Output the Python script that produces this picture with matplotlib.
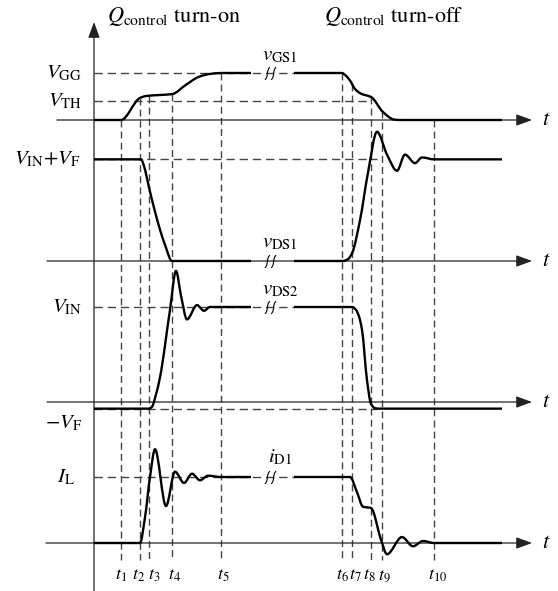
import numpy as np
import matplotlib.pyplot as plt
from matplotlib.path import Path
from matplotlib.patches import PathPatch
from matplotlib.transforms import Affine2D

plt.rcParams['mathtext.fontset'] = 'stix'
plt.rcParams['font.family'] = ['STIXGeneral', 'DejaVu Serif']

# switching instants t1..t10 (time units)
t_marks = [27, 46, 55, 78, 127, 248, 258, 277, 288, 340]
t_names = ['$t_{%d}$' % (i + 1) for i in range(10)]
# nudges so the crowded labels sit side by side
t_nudge = [-6, -8, -1, -4, -4, -6, -3, -8, -4, -6]

# gate-source voltage, normalised to V_GG
vgs_on_t = [0, 27, 46, 52, 64, 78, 92, 105, 116, 127, 157]
vgs_on_v = [0, 0, 0.47, 0.51, 0.53, 0.55, 0.75, 0.92, 0.98, 1.0, 1.0]
vgs_off_t = [200, 248, 251, 256, 261, 267, 277, 289, 300, 306, 408]
vgs_off_v = [1.0, 1.0, 0.96, 0.84, 0.66, 0.56, 0.49, 0.17, 0.01, 0, 0]
V_TH = 0.40

# drain-source voltage of the control switch, normalised to V_IN
V_F = 0.07
vds1_on_t = [0, 47, 50, 53, 56, 61, 66, 71, 78, 157]
vds1_on_v = [1.07, 1.07, 1.0, 0.87, 0.73, 0.52, 0.33, 0.17, 0, 0]
vds1_off_t = [200, 249, 254, 258, 266, 274, 283, 293, 303, 311, 321, 328, 340, 408]
vds1_off_v = [0, 0, 0.02, 0.08, 0.43, 0.93, 1.36, 1.12, 0.95, 1.12, 1.03, 1.09, 1.07, 1.07]

# voltage across the synchronous switch
vds2_on_t = [0, 55, 58, 62, 66, 76, 82, 87, 93, 103, 110, 116, 127, 157]
vds2_on_v = [-0.07, -0.07, -0.05, 0.08, 0.26, 0.97, 1.38, 1.12, 0.87, 1.02, 0.96, 1.0, 1.0, 1.0]
vds2_off_t = [200, 258, 262, 265, 268, 273, 277, 281, 285, 408]
vds2_off_v = [1.0, 1.0, 0.97, 0.9, 0.76, 0.23, -0.02, -0.065, -0.07, -0.07]

# diode current, normalised to I_L
id1_on_t = [0, 46, 51, 56, 61, 72, 81, 90, 98, 106, 114, 127, 157]
id1_on_v = [0, 0, 0.39, 1.0, 1.42, 0.56, 1.08, 0.91, 1.05, 0.95, 1.02, 1.0, 1.0]
id1_off_t = [200, 256, 263, 269, 277, 287, 293, 308, 319, 329, 340, 408]
id1_off_v = [1.0, 1.0, 0.77, 0.55, 0.53, 0.05, -0.17, 0.09, -0.05, 0.03, 0, 0]

# layout: baseline row and scale of each trace
rows = {'gs': (120, 47), 'ds1': (261, 95), 'ds2': (402, 95), 'd1': (543, 66)}
t_break = 176
ink = 'black'
grey = '#444444'


def smooth_path(ts, vs):
    """Monotone cubic Bezier through the given vertices."""
    t = np.asarray(ts, float)
    v = np.asarray(vs, float)
    h = np.diff(t)
    d = np.diff(v) / h
    m = np.zeros_like(t)
    for k in range(1, len(t) - 1):
        if d[k - 1] * d[k] > 0:
            w1 = 2 * h[k] + h[k - 1]
            w2 = h[k] + 2 * h[k - 1]
            m[k] = (w1 + w2) / (w1 / d[k - 1] + w2 / d[k])
    verts = [(t[0], v[0])]
    codes = [Path.MOVETO]
    for k in range(len(h)):
        verts += [(t[k] + h[k] / 3, v[k] + m[k] * h[k] / 3),
                  (t[k + 1] - h[k] / 3, v[k + 1] - m[k + 1] * h[k] / 3),
                  (t[k + 1], v[k + 1])]
        codes += [Path.CURVE4] * 3
    return Path(verts, codes)


fig = plt.figure(figsize=(5.58, 5.91), dpi=100)
ax = fig.add_axes([0, 0, 1, 1])
ax.set_xlim(-94, 464)
ax.set_ylim(591, 0)
ax.axis('off')

tr = {k: Affine2D().scale(1, -s).translate(0, y0) + ax.transData for k, (y0, s) in rows.items()}

# break mark: two small wavy strokes
brk = Path([(-0.9, -1), (-0.3, -0.6), (-0.7, 0.6), (-0.1, 1),
            (0.1, -1), (0.7, -0.6), (0.3, 0.6), (0.9, 1)],
           [Path.MOVETO, Path.CURVE4, Path.CURVE4, Path.CURVE4,
            Path.MOVETO, Path.CURVE4, Path.CURVE4, Path.CURVE4])

arrow = dict(arrowstyle='-|>,head_length=0.6,head_width=0.22', lw=0.9, color='#222222',
             mutation_scale=16, shrinkA=0, shrinkB=0)

# vertical axis
ax.annotate('', xy=(0, 22), xytext=(0, 591), xycoords='data', arrowprops=arrow)

# time axes
for key, x0 in [('gs', -37), ('ds1', -47), ('ds2', -47), ('d1', -48)]:
    ax.annotate('', xy=(438, 0), xytext=(x0, 0), xycoords=tr[key], textcoords=tr[key],
                arrowprops=arrow)
    ax.text(452, 0, '$t$', transform=tr[key], fontsize=16, ha='center', va='center')

# dashed time markers, starting on the gate trace
gs_t = vgs_on_t + vgs_off_t
gs_v = vgs_on_v + vgs_off_v
y0, s = rows['gs']
for t, name, dx in zip(t_marks, t_names, t_nudge):
    top = y0 - s * np.interp(t, gs_t, gs_v)
    ax.plot([t, t], [top, 560], color=grey, lw=1.0, ls=(0, (5, 3)), zorder=1)
    ax.text(t + dx, 576, name, fontsize=13, ha='left', va='center')

# dashed reference levels
dash = dict(color=grey, lw=1.0, ls=(0, (6, 3.5)), zorder=1)
ax.plot([0, 200], [1.0, 1.0], transform=tr['gs'], **dash)
ax.plot([0, 277], [V_TH, V_TH], transform=tr['gs'], **dash)
ax.plot([0, 283], [1 + V_F, 1 + V_F], transform=tr['ds1'], **dash)
ax.plot([0, 200], [1.0, 1.0], transform=tr['ds2'], **dash)
ax.plot([0, 283], [-V_F, -V_F], transform=tr['ds2'], **dash)
ax.plot([0, 200], [1.0, 1.0], transform=tr['d1'], **dash)

# waveforms
traces = [('gs', vgs_on_t, vgs_on_v, vgs_off_t, vgs_off_v),
          ('ds1', vds1_on_t, vds1_on_v, vds1_off_t, vds1_off_v),
          ('ds2', vds2_on_t, vds2_on_v, vds2_off_t, vds2_off_v),
          ('d1', id1_on_t, id1_on_v, id1_off_t, id1_off_v)]
for key, ta, va, tb, vb in traces:
    for tt, vv in [(ta, va), (tb, vb)]:
        ax.add_patch(PathPatch(smooth_path(tt, vv), transform=tr[key], fc='none',
                               ec=ink, lw=1.7, capstyle='butt', zorder=3))
    ax.plot([t_break], [va[-1]], transform=tr[key], marker=brk, ms=9, mfc='none',
            mec=ink, mew=0.8, zorder=4)

# trace names
ax.text(186, 1.38, r'$v_{\mathrm{GS1}}$', transform=tr['gs'], fontsize=15, ha='center', va='center')
ax.text(186, 0.20, r'$v_{\mathrm{DS1}}$', transform=tr['ds1'], fontsize=15, ha='center', va='center')
ax.text(186, 1.18, r'$v_{\mathrm{DS2}}$', transform=tr['ds2'], fontsize=15, ha='center', va='center')
ax.text(186, 1.30, r'$i_{\mathrm{D1}}$', transform=tr['d1'], fontsize=15, ha='center', va='center')

# level names
ax.text(-12, 1.0, r'$V_{\mathrm{GG}}$', transform=tr['gs'], fontsize=15, ha='right', va='center')
ax.text(-12, V_TH, r'$V_{\mathrm{TH}}$', transform=tr['gs'], fontsize=15, ha='right', va='center')
ax.text(-14, 1 + V_F, r'$V_{\mathrm{IN}}{+}V_{\mathrm{F}}$', transform=tr['ds1'], fontsize=15,
        ha='right', va='center')
ax.text(-12, 1.0, r'$V_{\mathrm{IN}}$', transform=tr['ds2'], fontsize=15, ha='right', va='center')
ax.text(-12, -V_F - 0.16, r'$-V_{\mathrm{F}}$', transform=tr['ds2'], fontsize=15, ha='right', va='center')
ax.text(-19, 1.0, r'$I_{\mathrm{L}}$', transform=tr['d1'], fontsize=15, ha='right', va='center')

# phase headings
ax.text(80, 17, r'$Q_{\mathrm{control}}$ turn-on', fontsize=16, ha='center', va='center')
ax.text(300, 17, r'$Q_{\mathrm{control}}$ turn-off', fontsize=16, ha='center', va='center')

fig.savefig('out.png', dpi=100)
